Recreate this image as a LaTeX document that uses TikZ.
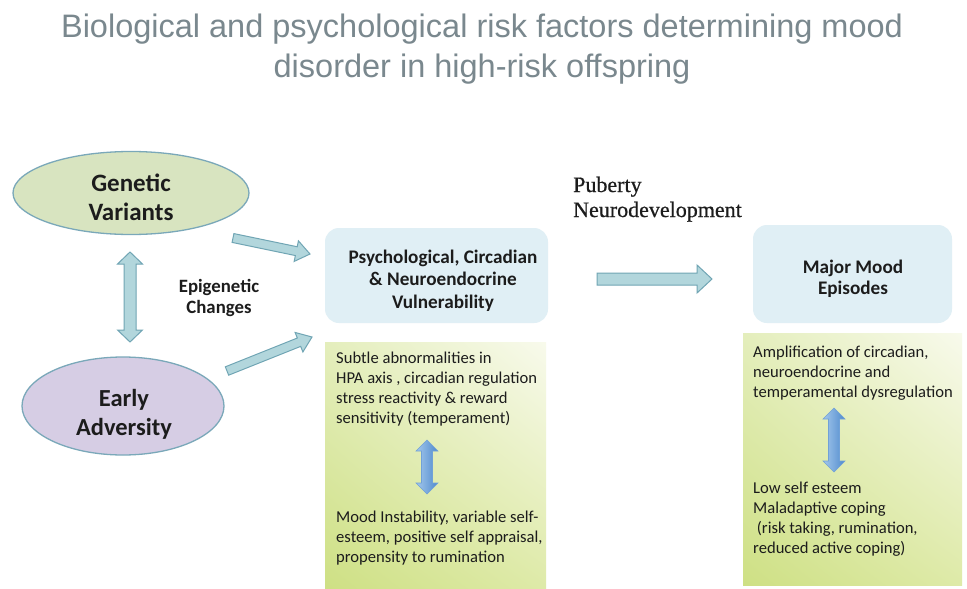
\documentclass[tikz,border=0pt]{standalone}
\usepackage{fontspec}
\usetikzlibrary{calc,shapes.geometric,shadings}
\newfontfamily\titlefont{Liberation Sans}
\newfontfamily\calfont{Carlito}
\newfontfamily\serffont[FakeBold=0.6]{Liberation Serif}
\definecolor{titlegray}{RGB}{122,136,142}
\definecolor{ringteal}{RGB}{122,168,185}
\definecolor{genfill}{RGB}{216,228,192}
\definecolor{earlyfill}{RGB}{214,205,228}
\definecolor{arrfill}{RGB}{178,214,220}
\definecolor{arrline}{RGB}{112,165,180}
\definecolor{boxblue}{RGB}{224,239,245}
\definecolor{bluedark}{RGB}{78,138,205}
\definecolor{bluelight}{RGB}{165,200,236}
\definecolor{grnUL}{RGB}{228,238,188}
\definecolor{grnUR}{RGB}{248,250,236}
\definecolor{grnLL}{RGB}{206,224,132}
\definecolor{grnLR}{RGB}{222,234,168}
\definecolor{txt}{RGB}{28,28,28}
\newcommand\fatarrow[6]{%
  \coordinate (fa-c) at ($(#3)!#6!(#2)$);
  \draw[#1] ($(#2)!#4!90:(#3)$) -- ($(fa-c)!#4!90:(#3)$) -- ($(fa-c)!#5!90:(#3)$) -- (#3)
     -- ($(fa-c)!#5!-90:(#3)$) -- ($(fa-c)!#4!-90:(#3)$) -- ($(#2)!#4!-90:(#3)$) -- cycle;}
\newcommand\dblarrow[6]{%
  \coordinate (da-a) at ($(#2)!#6!(#3)$);
  \coordinate (da-b) at ($(#3)!#6!(#2)$);
  \draw[#1] (#2) -- ($(da-a)!#5!90:(#3)$) -- ($(da-a)!#4!90:(#3)$) -- ($(da-b)!#4!90:(#3)$)
     -- ($(da-b)!#5!90:(#3)$) -- (#3) -- ($(da-b)!#5!-90:(#3)$) -- ($(da-b)!#4!-90:(#3)$)
     -- ($(da-a)!#4!-90:(#3)$) -- ($(da-a)!#5!-90:(#3)$) -- cycle;}
\tikzset{
  ttl/.style={font=\titlefont\fontsize{32.5}{40}\selectfont, text=titlegray, inner sep=0, align=center, anchor=base},
  ell/.style={ellipse, draw=ringteal, line width=1.3pt},
  bigtxt/.style={font=\calfont\bfseries\fontsize{25}{28.5}\selectfont, text=txt, inner sep=0, align=center, anchor=base},
  headtxt/.style={font=\calfont\bfseries\fontsize{19.2}{22.5}\selectfont, text=txt, inner sep=0, align=center, anchor=base},
  bodytxt/.style={font=\calfont\fontsize{16.6}{19.9}\selectfont, text=txt, inner sep=0, align=left, anchor=base west},
  puber/.style={font=\serffont\fontsize{22}{25}\selectfont, text=txt, inner sep=0, align=left, anchor=base west},
  hollow/.style={fill=arrfill, draw=arrline, line width=1pt, line join=miter},
  bluearr/.style={left color=bluelight, right color=bluedark, draw=bluedark!80, line width=0.6pt},
  bluebox/.style={fill=boxblue, draw=none, rounded corners=14pt},
  grnbox/.style={upper left=grnUL, upper right=grnUR, lower left=grnLL, lower right=grnLR},
}
\begin{document}
\begin{tikzpicture}[x=1pt,y=-1pt]
\useasboundingbox (0,0) rectangle (967,589);
\fill[white] (0,0) rectangle (967,589);
% title (base anchor = last line)
\node[ttl] (title) at (482,77) {Biological and psychological risk factors determining mood\\disorder in high-risk offspring};
% ellipses
\node[ell, fill=genfill, minimum width=236pt, minimum height=83pt] (gen) at (131,193) {};
\node[bigtxt] (gentxt) at (131,220) {Genetic\\Variants};
\node[ell, fill=earlyfill, minimum width=202pt, minimum height=98pt] (early) at (123,406) {};
\node[bigtxt, font=\calfont\bfseries\fontsize{24.5}{29}\selectfont] (earlytxt) at (124,435) {Early\\Adversity};
\node[font=\calfont\bfseries\fontsize{18.8}{20.5}\selectfont, text=txt, inner sep=0, align=center, anchor=base] (epi) at (219,313) {Epigenetic\\Changes};
% blue boxes
\fill[bluebox] (325,228) rectangle (548,323);
\node[inner sep=0] (psybox) at (436,275) {};
\node[headtxt] (psytxt) at (443,308) {Psychological, Circadian\\\& Neuroendocrine\\Vulnerability};
\fill[bluebox] (753,225) rectangle (952,323);
\node[inner sep=0] (mmbox) at (852,274) {};
\node[headtxt, font=\calfont\bfseries\fontsize{19.2}{21}\selectfont] (mmtxt) at (853,294) {Major Mood\\Episodes};
% green boxes
\shade[grnbox] (325,342) rectangle (546,589);
\shade[grnbox] (743,333) rectangle (962,585);
% texts in green boxes
\node[bodytxt] (t1) at (336,423) {Subtle abnormalities in\\HPA axis , circadian regulation\\stress reactivity \& reward\\sensitivity (temperament)};
\node[bodytxt] (t2) at (336,562) {Mood Instability, variable self-\\esteem, positive self appraisal,\\propensity to rumination};
\node[bodytxt] (t3) at (753,397) {Amplification of circadian,\\neuroendocrine and\\temperamental dysregulation};
\node[bodytxt] (t4) at (753,553) {Low self esteem\\Maladaptive coping\\\ (risk taking, rumination,\\reduced active coping)};
% puberty
\node[puber] (pub) at (573,217) {Puberty\\Neurodevelopment};
% arrow endpoints
\coordinate (g1) at (233,238);
\coordinate (g2) at (310,254);
\coordinate (e1) at (227,371);
\coordinate (e2) at (312,337);
\coordinate (v1) at (130,252);
\coordinate (v2) at (130,342);
\coordinate (h1) at (597,279);
\coordinate (h2) at (712,279);
\coordinate (b1) at (427,440);
\coordinate (b2) at (427,494);
\coordinate (c1) at (834,408);
\coordinate (c2) at (834,472);
% arrows
\fatarrow{hollow}{g1}{g2}{4.5pt}{10.5pt}{14pt}
\fatarrow{hollow}{e1}{e2}{4.5pt}{10.5pt}{14pt}
\dblarrow{hollow}{v1}{v2}{6pt}{12.5pt}{12pt}
\fatarrow{hollow}{h1}{h2}{6pt}{14pt}{15pt}
\dblarrow{bluearr}{b1}{b2}{5.5pt}{11pt}{11pt}
\dblarrow{bluearr}{c1}{c2}{5.5pt}{11pt}{11pt}
\end{tikzpicture}
\end{document}
